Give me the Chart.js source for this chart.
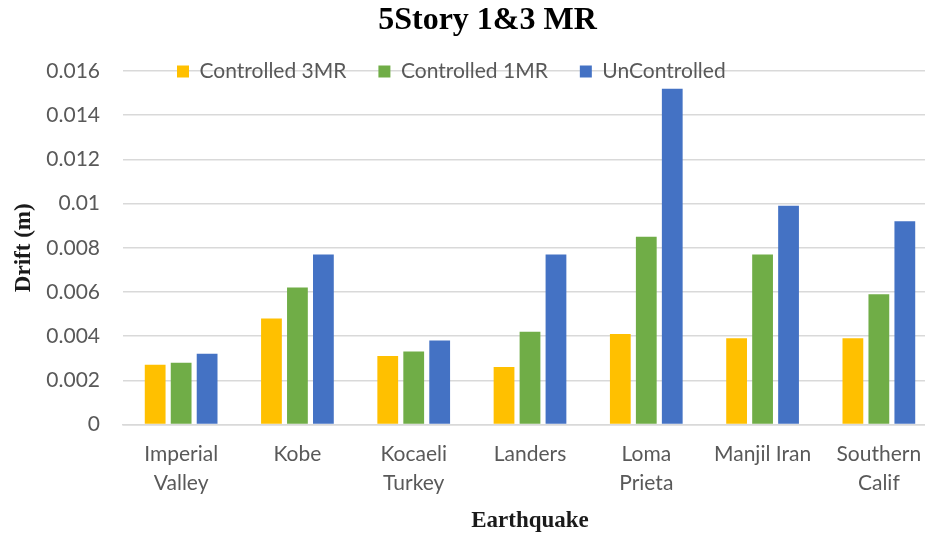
<!DOCTYPE html>
<html>
<head>
<meta charset="utf-8">
<script src="https://cdn.jsdelivr.net/npm/chart.js@4/dist/chart.umd.min.js"></script>
<style>
  html, body { margin: 0; padding: 0; background: #ffffff; overflow: hidden; }
  #wrap { width: 974px; height: 538px; }
</style>
</head>
<body>
<div id="wrap"><canvas id="chart" width="974" height="538"></canvas></div>
<script>
// Peak drift per earthquake record, 5-story frame
const categories = [
  ['Imperial', 'Valley'], 'Kobe', ['Kocaeli', 'Turkey'], 'Landers',
  ['Loma', 'Prieta'], 'Manjil Iran', ['Southern', 'Calif']
];
const controlled3MR = [0.0027, 0.0048, 0.0031, 0.0026, 0.0041, 0.0039, 0.0039];
const controlled1MR = [0.0028, 0.0062, 0.0033, 0.0042, 0.0085, 0.0077, 0.0059];
const uncontrolled  = [0.0032, 0.0077, 0.0038, 0.0077, 0.0152, 0.0099, 0.0092];
const yTickLabels = ['0', '0.002', '0.004', '0.006', '0.008', '0.01', '0.012', '0.014', '0.016'];

const labelFont = 'Lato, "Open Sans", sans-serif';
const serifFont = '"Liberation Serif", "Times New Roman", serif';

// The legend takes no room in the layout; it is laid over the plot
// along the top gridline, and the title is nudged to the chart's centre.
const overlayLegend = {
  id: 'overlayLegend',
  beforeLayout(chart) {
    const lg = chart.legend;
    if (lg && !lg._overlayFit) {
      const fit = lg.fit.bind(lg);
      lg.fit = function () {
        fit();
        this._fullHeight = this.height;
        this.height = 0;
      };
      lg._overlayFit = true;
    }
  },
  afterLayout(chart, args, opts) {
    const lg = chart.legend;
    if (lg) {
      const w = lg.width;
      const h = lg._fullHeight || 0;
      lg.left = opts.x;
      lg.right = opts.x + w;
      lg.top = opts.y;
      lg.bottom = opts.y + h;
      lg.height = h;
    }
    const tb = chart.titleBlock;
    if (tb) {
      tb.left += opts.titleShift;
      tb.right += opts.titleShift;
    }
  }
};

new Chart(document.getElementById('chart'), {
  type: 'bar',
  data: {
    labels: categories,
    datasets: [
      { label: 'Controlled 3MR', data: controlled3MR, backgroundColor: '#FFC000' },
      { label: 'Controlled 1MR', data: controlled1MR, backgroundColor: '#70AD47' },
      { label: 'UnControlled',   data: uncontrolled,  backgroundColor: '#4472C4' }
    ]
  },
  plugins: [overlayLegend],
  options: {
    responsive: false,
    animation: false,
    devicePixelRatio: 1,
    layout: { padding: { top: 2, right: 37, bottom: 0, left: 0 } },
    datasets: {
      bar: {
        categoryPercentage: 0.67,
        barPercentage: 0.8,
        borderWidth: 0
      }
    },
    plugins: {
      title: {
        display: true,
        text: '5Story 1&3 MR',
        color: '#000000',
        font: { family: serifFont, size: 32, weight: 'bold', lineHeight: 1.2 },
        padding: { top: 0, bottom: 30.6 }
      },
      legend: {
        position: 'top',
        align: 'start',
        labels: {
          boxWidth: 12,
          boxHeight: 12,
          padding: 32,
          color: '#595959',
          font: { family: labelFont, size: 21 }
        }
      },
      overlayLegend: { x: 145, y: 29, titleShift: 19 },
      tooltip: { enabled: false }
    },
    scales: {
      x: {
        grid: { display: false, drawTicks: false },
        border: { display: true, color: '#d9d9d9', width: 1.5 },
        ticks: {
          color: '#595959',
          padding: 15,
          maxRotation: 0,
          autoSkip: false,
          font: { family: labelFont, size: 21, lineHeight: 1.4 }
        },
        title: {
          display: true,
          text: 'Earthquake',
          color: '#1a1a1a',
          font: { family: serifFont, size: 23, weight: 'bold', lineHeight: 1.2 },
          padding: { top: 8, bottom: 3 }
        },
        afterFit(scale) { scale.height = 113.5; }
      },
      y: {
        min: 0,
        max: 0.016,
        grid: { color: '#d9d9d9', lineWidth: 1.5, drawTicks: false },
        border: { display: false },
        ticks: {
          stepSize: 0.002,
          color: '#595959',
          padding: 23,
          font: { family: labelFont, size: 21 },
          callback: (value, index) => yTickLabels[index]
        },
        title: {
          display: true,
          text: 'Drift (m)',
          color: '#1a1a1a',
          font: { family: serifFont, size: 23, weight: 'bold', lineHeight: 1.2 },
          padding: { top: 10, bottom: 0 }
        },
        afterFit(scale) { scale.width = 123; }
      }
    }
  }
});
</script>
</body>
</html>
